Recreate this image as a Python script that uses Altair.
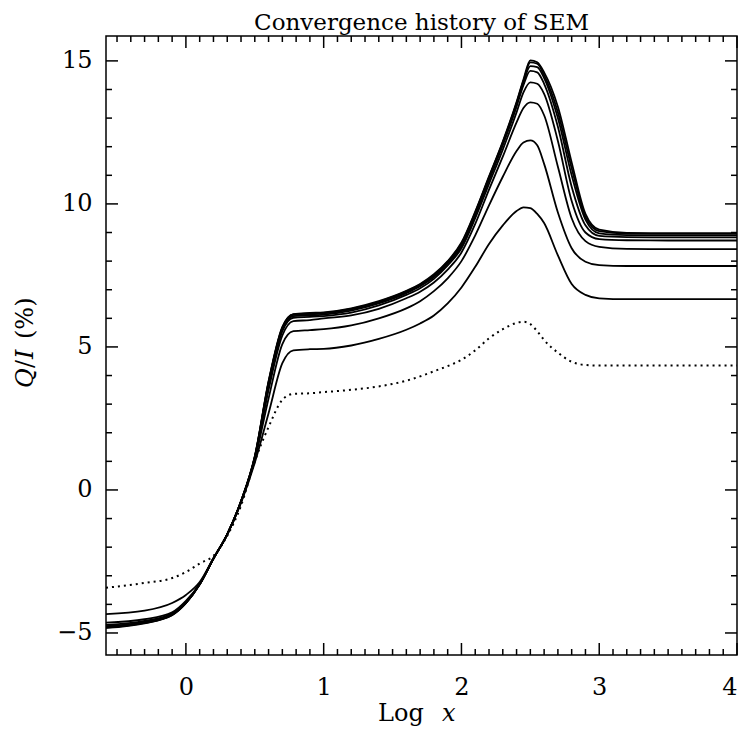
import altair as alt
import pandas as pd
import numpy as np

# x grid (Log x)
X = [-0.58, -0.3, -0.1, 0.0, 0.1, 0.2, 0.3, 0.4, 0.5, 0.6, 0.7, 0.78, 0.9, 1.0,
     1.2, 1.4, 1.6, 1.7, 1.8, 1.9, 2.0, 2.1, 2.2, 2.3, 2.4, 2.45, 2.5, 2.55, 2.6, 2.7,
     2.8, 2.9, 3.0, 3.2, 3.5, 4.0]

# first iteration (dotted)
D = [-3.42, -3.25, -3.08, -2.87, -2.57, -2.3, -1.6, -0.55, 1.0, 2.2, 3.15, 3.36,
     3.38, 3.42, 3.5, 3.62, 3.82, 3.97, 4.15, 4.33, 4.55, 4.88, 5.3, 5.62, 5.84, 5.88,
     5.8, 5.55, 5.24, 4.8, 4.48, 4.37, 4.35, 4.35, 4.35, 4.35]

# later iterations (solid)
C1 = [-4.34, -4.22, -3.95, -3.67, -3.22, -2.38, -1.55, -0.45, 0.95, 2.68, 4.43, 4.88,
      4.92, 4.93, 5.05, 5.28, 5.6, 5.82, 6.1, 6.52, 7.08, 7.8, 8.6, 9.25, 9.75, 9.88,
      9.85, 9.65, 9.33, 8.2, 7.2, 6.82, 6.7, 6.67, 6.67, 6.67]
C2 = [-4.64, -4.52, -4.28, -3.88, -3.28, -2.4, -1.55, -0.42, 1.05, 3.2, 5.1, 5.55,
      5.59, 5.62, 5.75, 6.0, 6.35, 6.6, 6.95, 7.4, 8.0, 8.9, 9.95, 10.95, 11.85, 12.15,
      12.22, 12.05, 11.4, 9.7, 8.45, 7.98, 7.86, 7.83, 7.83, 7.83]
C3 = [-4.72, -4.58, -4.32, -3.92, -3.3, -2.4, -1.55, -0.4, 1.1, 3.5, 5.4, 5.9,
      5.94, 6.0, 6.1, 6.33, 6.7, 6.93, 7.25, 7.7, 8.3, 9.3, 10.5, 11.65, 12.85, 13.35,
      13.55, 13.5, 13.1, 11.3, 9.5, 8.7, 8.5, 8.43, 8.42, 8.42]
C4 = [-4.76, -4.61, -4.34, -3.94, -3.3, -2.4, -1.55, -0.4, 1.12, 3.6, 5.55, 6.02,
      6.05, 6.08, 6.2, 6.45, 6.82, 7.05, 7.38, 7.85, 8.45, 9.5, 10.7, 11.9, 13.2, 13.9,
      14.25, 14.2, 13.85, 12.2, 10.1, 9.0, 8.77, 8.73, 8.72, 8.72]
C5 = [-4.78, -4.63, -4.35, -3.95, -3.3, -2.4, -1.55, -0.4, 1.14, 3.7, 5.62, 6.08,
      6.1, 6.13, 6.27, 6.52, 6.88, 7.12, 7.44, 7.92, 8.52, 9.6, 10.82, 12.05, 13.4, 14.15,
      14.65, 14.6, 14.2, 12.7, 10.6, 9.25, 8.88, 8.84, 8.83, 8.83]
C6 = [-4.8, -4.64, -4.36, -3.95, -3.3, -2.4, -1.55, -0.4, 1.15, 3.75, 5.66, 6.12,
      6.14, 6.17, 6.31, 6.56, 6.92, 7.16, 7.48, 7.96, 8.57, 9.66, 10.9, 12.12, 13.5, 14.25,
      14.82, 14.78, 14.4, 13.0, 11.0, 9.45, 8.97, 8.91, 8.9, 8.9]
C7 = [-4.81, -4.65, -4.37, -3.96, -3.3, -2.4, -1.55, -0.4, 1.16, 3.78, 5.68, 6.14,
      6.17, 6.19, 6.33, 6.58, 6.94, 7.18, 7.51, 7.98, 8.62, 9.7, 10.93, 12.15, 13.53, 14.3,
      14.95, 14.9, 14.5, 13.2, 11.25, 9.55, 9.05, 8.96, 8.95, 8.95]
T = [-4.82, -4.66, -4.38, -3.96, -3.3, -2.4, -1.55, -0.4, 1.18, 3.8, 5.7, 6.15,
     6.19, 6.21, 6.35, 6.6, 6.96, 7.2, 7.54, 8.0, 8.65, 9.73, 10.96, 12.18, 13.56, 14.35,
     15.02, 14.95, 14.6, 13.4, 11.45, 9.65, 9.1, 8.99, 8.98, 8.98]

X_LABELS = [0, 1, 2, 3, 4]
Y_LABELS = [-5, 0, 5, 10, 15]
TITLE = "Convergence history of SEM"

solid_curves = {"it2": C1, "it3": C2, "it4": C3, "it5": C4, "it6": C5,
                "it7": C6, "it8": C7, "it9": T}

rows = []
for name, vals in solid_curves.items():
    for xv, yv in zip(X, vals):
        rows.append({"x": xv, "y": yv, "curve": name})
df_solid = pd.DataFrame(rows)
df_dot = pd.DataFrame({"x": X, "y": D, "curve": "it1"})

W, H = 631, 619
FONT = "DejaVu Serif"
xs = alt.Scale(domain=[-0.58, 4.0], nice=False, zero=False)
ys = alt.Scale(domain=[-5.77, 15.87], nice=False, zero=False)

x_axis = alt.Axis(values=X_LABELS, ticks=False, domain=False, grid=False,
                  labelFont=FONT, labelFontSize=24, labelColor="black",
                  labelPadding=20, labelFlush=True, title=None, format="d")
y_axis = alt.Axis(values=Y_LABELS, ticks=False, domain=False, grid=False,
                  labelFont=FONT, labelFontSize=24, labelColor="black",
                  labelPadding=14, labelFlush=False, title=None, format="d")

solid = alt.Chart(df_solid).mark_line(
    color="black", strokeWidth=1.8, interpolate="monotone", clip=True
).encode(
    x=alt.X("x:Q", scale=xs, axis=x_axis),
    y=alt.Y("y:Q", scale=ys, axis=y_axis),
    detail="curve:N",
)

dotted = alt.Chart(df_dot).mark_line(
    color="black", strokeWidth=2, strokeDash=[2, 4], interpolate="monotone", clip=True
).encode(
    x=alt.X("x:Q", scale=xs, axis=x_axis),
    y=alt.Y("y:Q", scale=ys, axis=y_axis),
)

# tick marks (inward, on all four sides)
x_major = X_LABELS
x_minor = [round(v, 1) for v in np.arange(-0.5, 4.0, 0.1) if abs(v - round(v)) > 1e-6]
y_major = Y_LABELS
y_minor = [v for v in range(-5, 16) if v % 5 != 0]

def xticks(vals, length):
    d = pd.DataFrame({"v": vals})
    base = alt.Chart(d).mark_rule(color="black", strokeWidth=1.5)
    bot = base.encode(x=alt.X("v:Q", scale=xs, axis=x_axis), y=alt.value(H), y2=alt.value(H - length))
    top = base.encode(x=alt.X("v:Q", scale=xs, axis=x_axis), y=alt.value(0), y2=alt.value(length))
    return [bot, top]

def yticks(vals, length):
    d = pd.DataFrame({"v": vals})
    base = alt.Chart(d).mark_rule(color="black", strokeWidth=1.5)
    left = base.encode(y=alt.Y("v:Q", scale=ys, axis=y_axis), x=alt.value(0), x2=alt.value(length))
    right = base.encode(y=alt.Y("v:Q", scale=ys, axis=y_axis), x=alt.value(W), x2=alt.value(W - length))
    return [left, right]

ticks = xticks(x_major, 12) + xticks(x_minor, 6) + yticks(y_major, 12) + yticks(y_minor, 6)

def label(text, x, y, italic=False, angle=0, align="left", size=24):
    kw = dict(font=FONT, fontSize=size, color="black", align=align, baseline="alphabetic")
    if italic:
        kw["fontStyle"] = "italic"
    if angle:
        kw["angle"] = angle
    return alt.Chart(alt.Data(values=[{"t": text}])).mark_text(**kw).encode(
        x=alt.value(x), y=alt.value(y), text="t:N")

titles = [
    label(TITLE, W / 2, -6, align="center", size=23),
    label("Log", 272, 685),
    label("x", 336, 685, italic=True),
    label("Q", -73, 352, italic=True, angle=270),
    label("/", -73, 332, angle=270),
    label("I", -73, 323, italic=True, angle=270),
    label("(%)", -73, 303, angle=270),
]

chart = alt.layer(solid, dotted, *ticks, *titles).properties(
    width=W, height=H,
    autosize=alt.AutoSizeParams(type="none"),
    padding={"left": 98, "top": 28, "right": 1, "bottom": 74},
).configure_view(stroke="black", strokeWidth=1.5)

chart.save("out.html", embed_options={"renderer": "svg", "actions": False})
